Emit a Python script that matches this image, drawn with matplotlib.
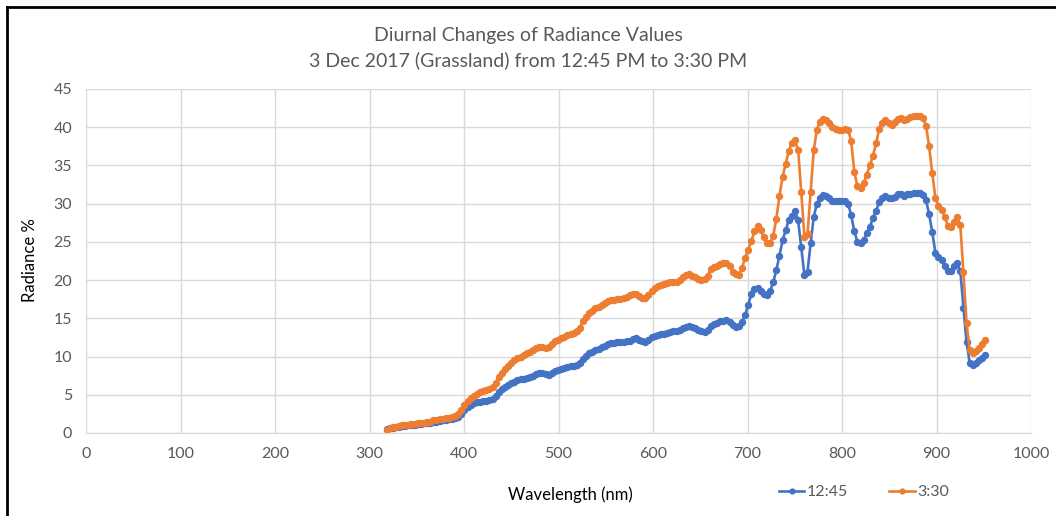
import numpy as np
import matplotlib
matplotlib.use("Agg")
import matplotlib.pyplot as plt
from matplotlib.lines import Line2D

# wavelength samples (nm)
wavelength = [
    318.0, 321.3, 324.6, 327.9, 331.2, 334.5, 337.8, 341.1, 344.4, 347.7,
    351.0, 354.3, 357.6, 360.9, 364.2, 367.5, 370.8, 374.1, 377.4, 380.7,
    384.0, 387.3, 390.6, 393.9, 397.2, 400.5, 403.8, 407.1, 410.4, 413.7,
    417.0, 420.3, 423.6, 426.9, 430.2, 433.5, 436.8, 440.1, 443.4, 446.7,
    450.0, 453.3, 456.6, 459.9, 463.2, 466.5, 469.8, 473.1, 476.4, 479.7,
    483.0, 486.3, 489.6, 492.9, 496.2, 499.5, 502.8, 506.1, 509.4, 512.7,
    516.0, 519.3, 522.6, 525.9, 529.2, 532.5, 535.8, 539.1, 542.4, 545.7,
    549.0, 552.3, 555.6, 558.9, 562.2, 565.5, 568.8, 572.1, 575.4, 578.7,
    582.0, 585.3, 588.6, 591.9, 595.2, 598.5, 601.8, 605.1, 608.4, 611.7,
    615.0, 618.3, 621.6, 624.9, 628.2, 631.5, 634.8, 638.1, 641.4, 644.7,
    648.0, 651.3, 654.6, 657.9, 661.2, 664.5, 667.8, 671.1, 674.4, 677.7,
    681.0, 684.3, 687.6, 690.9, 694.2, 697.5, 700.8, 704.1, 707.4, 710.7,
    714.0, 717.3, 720.6, 723.9, 727.2, 730.5, 733.8, 737.1, 740.4, 743.7,
    747.0, 750.3, 753.6, 756.9, 760.2, 763.5, 766.8, 770.1, 773.4, 776.7,
    780.0, 783.3, 786.6, 789.9, 793.2, 796.5, 799.8, 803.1, 806.4, 809.7,
    813.0, 816.3, 819.6, 822.9, 826.2, 829.5, 832.8, 836.1, 839.4, 842.7,
    846.0, 849.3, 852.6, 855.9, 859.2, 862.5, 865.8, 869.1, 872.4, 875.7,
    879.0, 882.3, 885.6, 888.9, 892.2, 895.5, 898.8, 902.1, 905.4, 908.7,
    912.0, 915.3, 918.6, 921.9, 925.2, 928.5, 931.8, 935.1, 938.4, 941.7,
    945.0, 948.3, 951.6,
]

# radiance % at 12:45
rad_1245 = [
    0.5, 0.6, 0.7, 0.8, 0.85, 0.9, 0.95, 1.0, 1.05, 1.1,
    1.15, 1.2, 1.25, 1.3, 1.35, 1.45, 1.5, 1.6, 1.7, 1.75,
    1.8, 1.85, 1.95, 2.1, 2.5, 3.0, 3.4, 3.7, 3.9, 4.05,
    4.1, 4.2, 4.25, 4.3, 4.4, 4.8, 5.3, 5.7, 6.0, 6.3,
    6.5, 6.7, 6.9, 7.0, 7.1, 7.2, 7.35, 7.5, 7.7, 7.8,
    7.8, 7.7, 7.6, 7.8, 8.1, 8.2, 8.4, 8.5, 8.6, 8.7,
    8.8, 8.9, 9.2, 9.7, 10.1, 10.4, 10.6, 10.8, 11.0, 11.2,
    11.4, 11.6, 11.8, 11.8, 11.85, 11.9, 11.95, 12.0, 12.1, 12.3,
    12.4, 12.2, 12.0, 11.9, 12.2, 12.5, 12.7, 12.8, 12.9, 13.0,
    13.1, 13.2, 13.3, 13.4, 13.5, 13.7, 13.9, 14.0, 13.9, 13.7,
    13.5, 13.3, 13.2, 13.5, 14.0, 14.2, 14.4, 14.6, 14.7, 14.8,
    14.5, 14.1, 13.9, 14.0, 14.5, 15.4, 16.8, 18.2, 18.8, 19.0,
    18.6, 18.2, 18.1, 18.6, 19.7, 21.3, 23.2, 25.2, 26.5, 27.9,
    28.4, 29.0, 27.8, 24.3, 20.7, 21.1, 24.8, 28.3, 30.0, 30.8,
    31.1, 31.0, 30.7, 30.4, 30.3, 30.3, 30.4, 30.3, 30.0, 28.5,
    26.4, 25.0, 24.8, 25.3, 26.1, 27.0, 28.1, 29.1, 30.2, 30.8,
    31.0, 30.8, 30.7, 30.9, 31.2, 31.2, 31.0, 31.2, 31.3, 31.4,
    31.4, 31.4, 31.1, 30.5, 28.6, 26.3, 23.6, 23.0, 22.6, 21.8,
    21.2, 21.2, 21.8, 22.2, 21.2, 16.4, 11.9, 9.2, 8.9, 9.2,
    9.5, 9.8, 10.2,
]

# radiance % at 3:30
rad_330 = [
    0.45, 0.6, 0.75, 0.85, 0.95, 1.0, 1.05, 1.1, 1.15, 1.2,
    1.25, 1.3, 1.35, 1.4, 1.5, 1.65, 1.75, 1.8, 1.85, 1.9,
    2.0, 2.05, 2.2, 2.5, 3.0, 3.6, 4.2, 4.6, 4.9, 5.1,
    5.35, 5.5, 5.6, 5.7, 6.0, 6.6, 7.3, 7.9, 8.4, 8.8,
    9.2, 9.5, 9.8, 10.0, 10.2, 10.4, 10.6, 10.9, 11.1, 11.3,
    11.2, 11.1, 11.2, 11.6, 12.0, 12.2, 12.4, 12.6, 12.8, 12.9,
    13.1, 13.3, 13.8, 14.6, 15.2, 15.7, 16.0, 16.3, 16.5, 16.7,
    17.0, 17.3, 17.4, 17.45, 17.5, 17.55, 17.6, 17.8, 18.0, 18.2,
    18.2, 17.9, 17.6, 17.6, 18.1, 18.6, 19.0, 19.2, 19.4, 19.5,
    19.6, 19.7, 19.75, 19.8, 20.0, 20.4, 20.7, 20.8, 20.6, 20.4,
    20.2, 20.0, 20.1, 20.6, 21.4, 21.7, 21.9, 22.1, 22.2, 22.3,
    21.8, 21.1, 20.8, 20.7, 21.6, 22.9, 24.0, 25.1, 26.4, 27.1,
    26.5, 25.6, 24.9, 24.8, 25.8, 28.0, 31.0, 33.5, 35.2, 36.9,
    38.0, 38.3, 37.0, 31.5, 25.7, 26.0, 31.5, 37.0, 39.7, 40.7,
    41.1, 41.0, 40.5, 40.0, 39.8, 39.7, 39.7, 39.8, 39.7, 38.2,
    34.2, 32.3, 32.0, 32.7, 33.8, 35.0, 36.3, 37.9, 39.8, 40.6,
    40.9, 40.6, 40.3, 40.7, 41.1, 41.2, 40.9, 41.1, 41.3, 41.5,
    41.5, 41.5, 41.2, 40.2, 37.5, 34.0, 30.8, 29.7, 29.2, 28.3,
    27.1, 26.9, 27.6, 28.2, 27.2, 21.0, 14.4, 10.8, 10.4, 10.7,
    11.1, 11.6, 12.2,
]

plt.rcParams['font.family'] = ['Lato', 'DejaVu Sans']

BLUE = "#4472C4"
ORANGE = "#ED7D31"
GREY = "#595959"

fig = plt.figure(figsize=(10.56, 5.16), dpi=100)
axis = fig.add_axes([86 / 1056, 1 - 433 / 516, 945 / 1056, 344 / 516])

axis.plot(wavelength, rad_1245, color=BLUE, lw=1.9, marker="o", ms=4.3, label="12:45")
axis.plot(wavelength, rad_330, color=ORANGE, lw=1.9, marker="o", ms=4.3, label="3:30")

axis.set_xlim(0, 1000)
axis.set_ylim(0, 45)
axis.set_xticks(np.arange(0, 1001, 100))
axis.set_yticks(np.arange(0, 46, 5))
axis.grid(True, color="#d9d9d9", lw=1)
axis.set_axisbelow(True)
for side in ["top", "left", "right"]:
    axis.spines[side].set_visible(False)
axis.spines["bottom"].set_color("#d9d9d9")
axis.tick_params(length=0, labelsize=11.5, labelcolor=GREY, pad=10)

fig.text(0.5, 1 - 36 / 516, "Diurnal Changes of Radiance Values", ha="center", va="center",
         fontsize=14, color=GREY)
fig.text(0.5, 1 - 60 / 516, "3 Dec 2017 (Grassland) from 12:45 PM to 3:30 PM", ha="center",
         va="center", fontsize=14, color=GREY)
fig.text(30 / 1056, 1 - 260 / 516, "Radiance %", rotation=90, ha="center", va="center",
         fontsize=12, color="black")
fig.text(570 / 1056, 1 - 495 / 516, "Wavelength (nm)", ha="center", va="center",
         fontsize=12, color="black")

fig.legend(loc="center", bbox_to_anchor=(864 / 1056, 1 - 492 / 516), ncol=2, frameon=False,
           fontsize=11.5, labelcolor=GREY, handlelength=1.6, handletextpad=0.15,
           columnspacing=2.6, markerscale=0.8)

# chart border (left and top edges only show in the crop)
fig.add_artist(Line2D([7 / 1056, 7 / 1056], [0, 1 - 7 / 516], color="black", lw=2))
fig.add_artist(Line2D([7 / 1056, 1], [1 - 7 / 516, 1 - 7 / 516], color="black", lw=2))

fig.savefig("out.png", dpi=100)
